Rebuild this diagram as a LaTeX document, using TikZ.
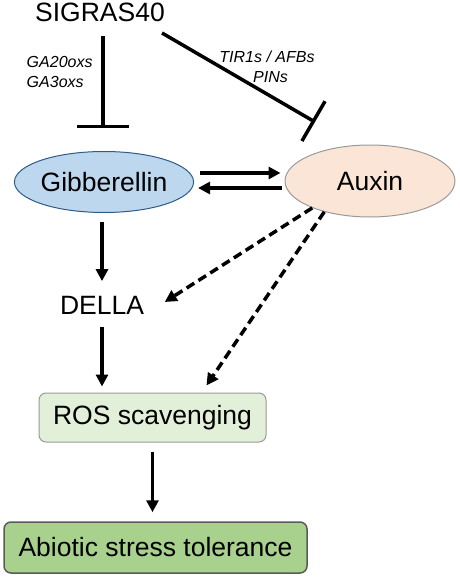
\documentclass[tikz,border=0pt]{standalone}
\usepackage{fontspec}
\setmainfont{Liberation Sans}
\usetikzlibrary{arrows.meta,shapes.geometric}
\definecolor{gibfill}{HTML}{BDD7EE}
\definecolor{gibline}{HTML}{2E5B8A}
\definecolor{auxfill}{HTML}{FBE5D6}
\definecolor{rosfill}{HTML}{E2F0D9}
\definecolor{abifill}{HTML}{A9D18E}
\definecolor{boxline}{HTML}{9A9A9A}
\definecolor{abiline}{HTML}{5A5A5A}

\begin{document}
\begin{tikzpicture}[x=1pt,y=-1pt,line width=3.5pt,
      >={Triangle[length=12pt,width=12pt]},
      every node/.style={font=\fontsize{26.5}{30}\selectfont,inner sep=0pt},
      hormone/.style={ellipse,line width=1pt},
      cell/.style={rounded corners=7pt,line width=1pt,draw=boxline},
      gene/.style={font=\fontsize{16}{20}\selectfont\itshape},
      inhib/.style={-{Bar[width=#1]}}]
      \useasboundingbox (0,0) rectangle (459,578);
      \node (sig) at (100,12) {SIGRAS40};
      \node[hormone,draw=gibline,fill=gibfill,minimum width=162pt,minimum height=61pt]
         (gib) at (104,182) {Gibberellin};
      \node[hormone,draw=boxline,fill=auxfill,minimum width=170pt,minimum height=72pt]
         (aux) at (370,181) {Auxin};
      \node (della) at (102,305) {DELLA};
      \node[cell,fill=rosfill,minimum width=227pt,minimum height=49pt]
         (ros) at (152.5,417.5) {ROS scavenging};
      \node[cell,draw=abiline,line width=1.5pt,fill=abifill,minimum width=303pt,minimum height=51pt]
         (abi) at (155.5,547.5) {Abiotic stress tolerance};
      \node[gene,align=left,anchor=west] (ga) at (25,72) {GA20oxs\\GA3oxs};
      \node[gene,align=center] (tir) at (267,67) {TIR1s / AFBs\\\hspace*{7pt}PINs};
      % inhibition by SIGRAS40
      \coordinate (gibstop) at (103,128);
      \coordinate (sigdiag) at (162,33);
      \coordinate (auxstop) at (315,122);
      \draw[inhib=52pt,shorten <=13pt] (sig.south -| gibstop)--(gibstop);
      \draw[inhib=46pt] (sigdiag)--(auxstop);
      % crosstalk
      \draw[->]([shift={(6,-9)}]gib.east)--([shift={(-4,-8)}]aux.west);
      \draw[->]([shift={(-3,7)}]aux.west)--([shift={(4,6)}]gib.east);
      % downstream
      \draw[->,shorten <=9pt,shorten >=13pt](gib.south -| della)--(della.north);
      \draw[->,shorten <=11pt,shorten >=6pt](della.south)--(della.south |- ros.north);
      \draw[->,shorten <=9pt,shorten >=9pt](ros.south)--(ros.south |- abi.north);
      \draw[->,dashed,dash pattern=on 9pt off 5pt](aux.205)--([xshift=19pt,yshift=3pt]della.east);
      \draw[->,dashed,dash pattern=on 9pt off 5pt](aux.214)--([shift={(54,-7)}]ros.north);
    \end{tikzpicture}
\end{document}
